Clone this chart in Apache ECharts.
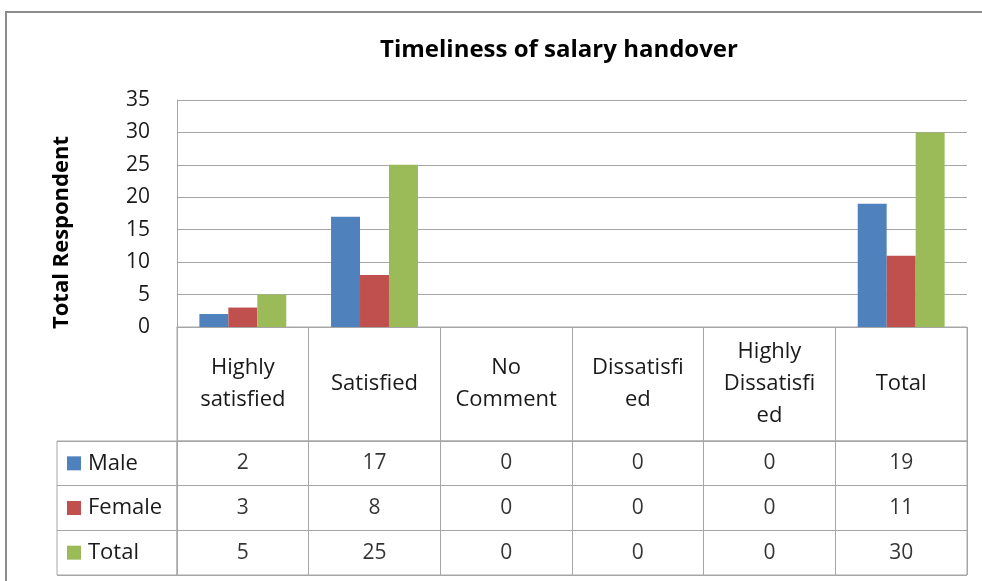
<!DOCTYPE html>
<html>
<head>
<meta charset="utf-8">
<script src="https://cdn.jsdelivr.net/npm/echarts@6/dist/echarts.min.js"></script>
<style>
  html, body { margin: 0; padding: 0; background: #fff; }
  #chart { width: 982px; height: 581px; }
</style>
</head>
<body>
<div id="chart"></div>
<script>
// chart data
var categories = ['Highly satisfied', 'Satisfied', 'No Comment', 'Dissatisfied', 'Highly Dissatisfied', 'Total'];
// header text as it wraps in the table cells
var headerLabels = ['Highly\nsatisfied', 'Satisfied', 'No\nComment', 'Dissatisfi\ned', 'Highly\nDissatisfi\ned', 'Total'];
var seriesNames = ['Male', 'Female', 'Total'];
var maleValues = [2, 17, 0, 0, 0, 19];
var femaleValues = [3, 8, 0, 0, 0, 11];
var totalValues = [5, 25, 0, 0, 0, 30];
var seriesColors = ['#4F81BD', '#C0504D', '#9BBB59'];

var lineGray = '#a6a6a6';
var font = 'Open Sans';

var chart = echarts.init(document.getElementById('chart'));

// table cells: [category index, row index, value]
var allValues = [maleValues, femaleValues, totalValues];
var cellData = [];
allValues.forEach(function (vals, r) {
  vals.forEach(function (v, c) { cellData.push([c, r, v]); });
});

var legendRich = { t: { fontSize: 22, fontFamily: font, color: '#1a1a1a', padding: [0, 0, 0, 7] } };
seriesNames.forEach(function (n, i) {
  legendRich['k' + i] = { backgroundColor: seriesColors[i], width: 14, height: 14 };
});

var barSeries = seriesNames.map(function (n, i) {
  return {
    name: n,
    type: 'bar',
    xAxisIndex: 0,
    yAxisIndex: 0,
    data: allValues[i],
    barWidth: '22%',
    barGap: '0%',
    itemStyle: { color: seriesColors[i] },
    silent: true
  };
});

var option = {
  animation: false,
  backgroundColor: '#fff',
  textStyle: { fontFamily: font },
  title: {
    text: 'Timeliness of salary handover',
    left: 554,
    textAlign: 'center',
    top: 33,
    textStyle: { fontFamily: font, fontSize: 24, fontWeight: 'bold', color: '#000' }
  },
  graphic: [
    {
      type: 'text', z: -10, left: 40, top: -78,
      style: { text: 'UNIVERSITY', font: 'bold 92px "Liberation Sans"', fill: '#dedede' }
    },
    {
      type: 'rect', z: -5,
      shape: { x: 6, y: 12, width: 1000, height: 620 },
      style: { fill: '#fff', stroke: '#8c8c8c', lineWidth: 2 }
    }
  ],
  grid: [
    { left: 177, right: 15, top: 100, bottom: 254 },
    { left: 177, right: 15, top: 327, height: 114, show: true, borderColor: lineGray, borderWidth: 1 },
    { left: 177, right: 15, top: 441, bottom: 6, show: true, borderColor: lineGray, borderWidth: 1 },
    { left: 57, width: 120, top: 441, bottom: 6, show: true, borderColor: lineGray, borderWidth: 1 }
  ],
  xAxis: [
    {
      gridIndex: 0, type: 'category', data: headerLabels, boundaryGap: true,
      axisLine: { show: true, lineStyle: { color: lineGray } },
      axisTick: { show: false },
      axisLabel: {
        interval: 0, margin: 57, verticalAlign: 'middle', lineHeight: 32,
        fontSize: 22, fontFamily: font, color: '#1a1a1a'
      },
      splitLine: { show: false }
    },
    {
      gridIndex: 1, type: 'category', data: categories, boundaryGap: true,
      axisLine: { show: false }, axisTick: { show: false }, axisLabel: { show: false },
      splitLine: { show: true, interval: 0, lineStyle: { color: lineGray } }
    },
    {
      gridIndex: 2, type: 'category', data: categories, boundaryGap: true,
      axisLine: { show: false }, axisTick: { show: false }, axisLabel: { show: false },
      splitLine: { show: true, interval: 0, lineStyle: { color: lineGray } }
    },
    {
      gridIndex: 3, type: 'category', data: [''], show: false
    }
  ],
  yAxis: [
    {
      gridIndex: 0, type: 'value', min: 0, max: 35, interval: 5,
      name: 'Total Respondent', nameLocation: 'middle', nameGap: 104,
      nameTextStyle: {
        fontSize: 22, fontWeight: 'bold', fontFamily: font, color: '#000',
        padding: [0, 38, 0, 0]
      },
      axisLine: { show: true, lineStyle: { color: lineGray } },
      axisTick: { show: false },
      axisLabel: { fontSize: 21, fontFamily: font, color: '#1a1a1a', margin: 27 },
      splitLine: { show: true, lineStyle: { color: lineGray } }
    },
    { gridIndex: 1, type: 'value', show: false },
    {
      gridIndex: 2, type: 'category', data: seriesNames, inverse: true,
      axisLine: { show: false }, axisTick: { show: false }, axisLabel: { show: false },
      splitLine: { show: true, interval: 0, lineStyle: { color: lineGray } }
    },
    {
      gridIndex: 3, type: 'category', data: seriesNames, inverse: true,
      axisLine: { show: false }, axisTick: { show: false },
      axisLabel: {
        inside: true, align: 'left', margin: 10,
        formatter: function (v) {
          return '{k' + seriesNames.indexOf(v) + '|}{t|' + v + '}';
        },
        rich: legendRich
      },
      splitLine: { show: true, interval: 0, lineStyle: { color: lineGray } }
    }
  ],
  series: barSeries.concat([
    {
      type: 'scatter',
      xAxisIndex: 2,
      yAxisIndex: 2,
      data: cellData,
      symbolSize: 1,
      itemStyle: { color: 'rgba(0,0,0,0)' },
      silent: true,
      label: {
        show: true, position: 'inside',
        fontSize: 21, fontFamily: font, color: '#000',
        formatter: function (p) { return String(p.value[2]); }
      }
    }
  ])
};

chart.setOption(option);
</script>
</body>
</html>
